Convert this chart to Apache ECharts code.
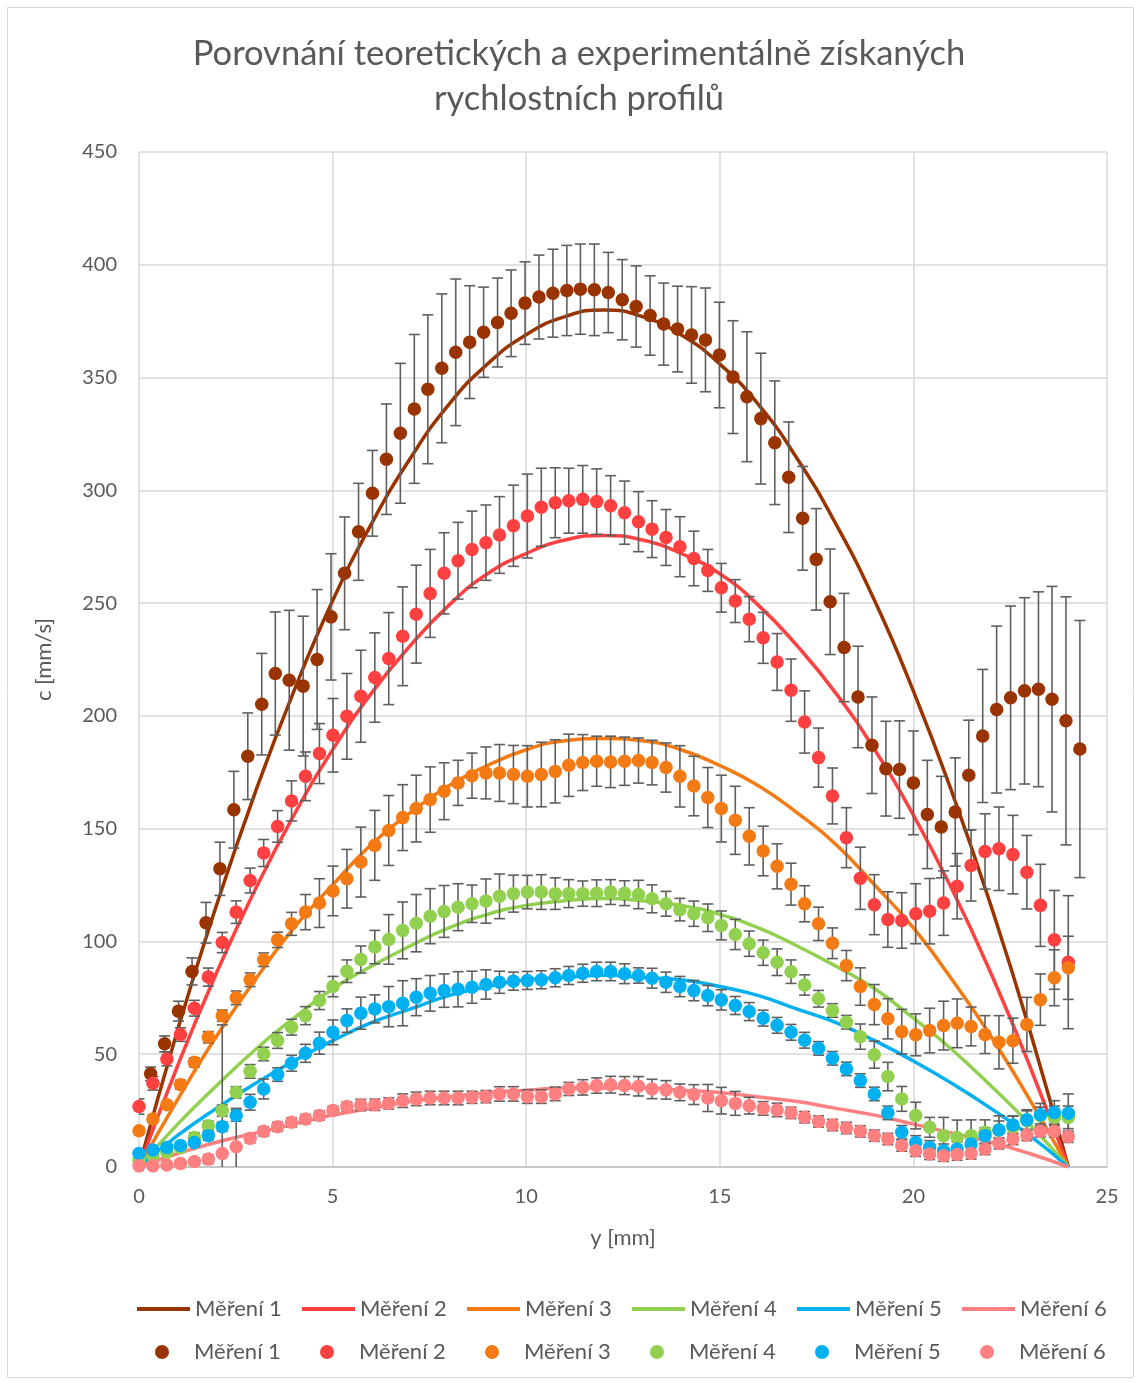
<!DOCTYPE html>
<html>
<head>
<meta charset="utf-8">
<script src="https://cdn.jsdelivr.net/npm/echarts@6/dist/echarts.min.js"></script>
<style>
  html, body { margin: 0; padding: 0; background: #fff; }
  #rychlosti { width: 1140px; height: 1383px; }
</style>
</head>
<body>
<div id="rychlosti"></div>
<script>
// poloha y [mm] pro teoreticke profily
const teorX = [0, 1, 2, 3, 4, 5, 6, 7, 8, 9, 10, 11, 12, 13, 14, 15, 16, 17, 18, 19, 20, 21, 22, 23, 24];
const teor1 = [0, 61, 116, 166, 211, 251, 285, 314, 338, 356, 369, 377, 380, 377, 369, 356, 338, 314, 285, 251, 211, 166, 116, 61, 0];
const teor2 = [0, 45, 86, 123, 156, 185, 210, 231, 249, 263, 272, 278, 280, 278, 272, 263, 249, 231, 210, 185, 156, 123, 86, 45, 0];
const teor3 = [0, 30, 58, 83, 106, 125, 143, 157, 169, 178, 185, 189, 190, 189, 185, 178, 169, 157, 143, 125, 106, 83, 58, 30, 0];
const teor4 = [0, 19, 36, 52, 66, 79, 89, 98, 106, 112, 116, 118, 119, 118, 116, 112, 106, 98, 89, 79, 66, 52, 36, 19, 0];
const teor5 = [0, 14, 26, 37, 47, 56, 64, 70, 76, 80, 83, 84, 85, 84, 83, 80, 76, 70, 64, 56, 47, 37, 26, 14, 0];
const teor6 = [0, 6, 11, 15, 19, 23, 26, 29, 31, 33, 34, 35, 35, 35, 34, 33, 31, 29, 26, 23, 19, 15, 11, 6, 0];

// poloha y [mm] mericich bodu
const yMer = [0, 0.36, 0.72, 1.07, 1.43, 1.79, 2.15, 2.51, 2.87, 3.22, 3.58, 3.94, 4.30, 4.66, 5.01, 5.37, 5.73,
  6.09, 6.45, 6.81, 7.16, 7.52, 7.88, 8.24, 8.60, 8.96, 9.31, 9.67, 10.03, 10.39, 10.75, 11.10, 11.46, 11.82,
  12.18, 12.54, 12.90, 13.25, 13.61, 13.97, 14.33, 14.69, 15.04, 15.40, 15.76, 16.12, 16.48, 16.84, 17.19,
  17.55, 17.91, 18.27, 18.63, 18.99, 19.34, 19.70, 20.06, 20.42, 20.78, 21.13, 21.49, 21.85, 22.21, 22.57,
  22.93, 23.28, 23.64, 24.00];
// mereni 1 ma posunutou polohu
const yMer1 = [0.30, 0.66, 1.02, 1.37, 1.73, 2.09, 2.45, 2.81, 3.17, 3.52, 3.88, 4.24, 4.60, 4.96, 5.31, 5.67,
  6.03, 6.39, 6.75, 7.11, 7.46, 7.82, 8.18, 8.54, 8.90, 9.26, 9.61, 9.97, 10.33, 10.69, 11.05, 11.40, 11.76,
  12.12, 12.48, 12.84, 13.20, 13.55, 13.91, 14.27, 14.63, 14.99, 15.34, 15.70, 16.06, 16.42, 16.78, 17.14,
  17.49, 17.85, 18.21, 18.57, 18.93, 19.29, 19.64, 20.00, 20.36, 20.72, 21.08, 21.43, 21.79, 22.15, 22.51,
  22.87, 23.23, 23.58, 23.94, 24.30];

const mer1 = [41.3, 54.6, 69.1, 86.7, 108.3, 132.2, 158.4, 182.1, 205.2, 218.8, 215.8, 213.2, 225.0, 243.9, 263.2,
  281.6, 298.7, 313.8, 325.3, 336.1, 344.8, 354.1, 361.2, 365.7, 370.1, 374.4, 378.5, 383.0, 385.7, 387.4, 388.6,
  389.2, 388.9, 387.7, 384.5, 381.5, 377.5, 373.7, 371.5, 368.9, 366.7, 360.0, 350.2, 341.5, 331.8, 321.1, 305.8,
  287.6, 269.4, 250.6, 230.3, 208.4, 187.0, 176.6, 176.2, 170.3, 156.3, 150.7, 157.4, 173.7, 191.1, 202.8, 208.0,
  211.1, 211.8, 207.4, 197.8, 185.3];
const chyba1 = [3, 3.5, 4.4, 6, 9, 11.8, 17, 19.2, 22.5, 27.3, 31, 31, 31, 28, 25, 21.5, 19, 24.5, 31, 33, 33, 33,
  32.5, 25, 20, 19.7, 19.2, 18.3, 18.6, 19.5, 20, 20, 20.3, 17.8, 17.8, 18, 17.6, 18.2, 19, 21.4, 23, 23.4, 25,
  28.8, 29, 27.4, 24.5, 23, 22.5, 23.4, 24, 22.5, 21.4, 21, 21.6, 23, 24, 22.5, 24, 24.4, 29.5, 37, 40.7, 41.3,
  43.2, 50, 55, 57];

const mer2 = [26.8, 37.1, 47.9, 58.7, 70.4, 84.2, 99.5, 113.0, 127.0, 139.2, 151.0, 162.3, 173.2, 183.3, 191.4,
  199.8, 208.7, 217.0, 225.4, 235.3, 245.1, 254.3, 263.2, 268.8, 273.8, 276.8, 280.2, 284.3, 288.6, 292.5, 294.5,
  295.4, 296.0, 295.0, 293.2, 290.1, 286.1, 282.8, 279.1, 275.0, 269.8, 264.5, 256.8, 250.9, 242.9, 234.6, 223.9,
  211.4, 197.3, 181.5, 164.5, 146.0, 128.0, 116.3, 109.7, 109.3, 112.3, 113.4, 117.0, 124.5, 133.7, 139.9, 141.1,
  138.5, 130.7, 116.0, 100.7, 90.8];
const chyba2 = [3.4, 3, 3, 3, 3.5, 4, 4.5, 5, 5.5, 6, 7, 8.9, 10.8, 13.3, 16.3, 19, 20.4, 19.8, 20.4, 21.9, 21.7,
  19.5, 18, 17, 17, 16.7, 17, 18, 18.6, 17.3, 15.5, 14.4, 15, 14.5, 13.3, 14, 13.3, 12.6, 12.4, 13.3, 12.1, 9.3,
  10.8, 9.5, 10, 11.3, 12.6, 13.8, 13.8, 13.1, 12.4, 13.3, 13.8, 13.3, 12.3, 12.3, 13.3, 14.5, 14.3, 14.5, 15.8,
  16.7, 18.5, 17.4, 16.3, 18.2, 21.9, 29.5];

const mer3 = [16.1, 21.3, 27.6, 36.5, 46.4, 57.5, 67.1, 75.0, 83.0, 91.9, 100.7, 107.8, 113.0, 117.0, 122.4, 127.8,
  135.2, 142.6, 149.2, 154.9, 158.9, 162.9, 166.6, 170.3, 173.5, 174.7, 174.7, 174.0, 173.2, 174.0, 175.4, 178.1,
  179.3, 179.9, 179.6, 179.9, 180.2, 179.3, 177.1, 173.2, 168.9, 163.8, 158.9, 153.7, 146.6, 140.1, 133.3, 125.4,
  116.7, 107.8, 99.2, 89.3, 80.0, 72.0, 65.7, 60.0, 58.6, 60.5, 62.7, 63.7, 62.3, 58.7, 55.3, 56.0, 63.2, 74.2,
  83.9, 88.3];
const chyba3 = [1.5, 1.5, 1.5, 2, 2, 2.5, 2.5, 3, 3, 3, 3.4, 5.1, 7.8, 10.8, 11, 13, 15.5, 15.5, 15.5, 14.6, 14.8,
  14.5, 12.6, 10, 10, 11.5, 12.6, 12.9, 13.6, 14.3, 14, 13.8, 12.4, 11.1, 11.4, 10.7, 10, 9.9, 10.9, 13.6, 13.2,
  13.3, 14.8, 15.1, 12.7, 11, 10, 9.3, 8, 7.4, 6.8, 6.7, 8.3, 8.9, 8.9, 9.9, 9.3, 9.9, 10.8, 10.8, 8.6, 8.4, 11.8,
  10, 12, 11.4, 12.4, 14];

const mer4 = [3.0, 5.0, 6.5, 8.7, 13.1, 18.3, 25.0, 33.1, 42.4, 50.1, 56.1, 62.0, 67.1, 73.8, 80.0, 86.8, 92.0,
  97.5, 100.9, 104.9, 108.1, 111.2, 113.3, 115.2, 116.7, 117.9, 120.0, 121.2, 121.9, 121.9, 121.2, 121.2, 121.2,
  121.4, 121.9, 121.4, 120.8, 118.9, 116.7, 114.1, 112.3, 110.5, 107.1, 103.1, 99.0, 95.0, 90.8, 86.6, 80.7, 74.6,
  69.4, 64.2, 57.8, 49.8, 40.1, 30.2, 22.8, 17.6, 13.9, 13.1, 13.9, 15.4, 16.4, 17.6, 20.5, 22.8, 22.0, 22.0];
const chyba4 = [1, 1, 1.5, 1.5, 2, 2, 2.5, 2.5, 3, 3, 3.5, 3.5, 4, 4, 4.5, 5, 6, 7.4, 11, 12.6, 12.7, 12.2, 11.5,
  10.4, 8.3, 9.8, 9.9, 8.2, 7.4, 7.7, 7, 6.2, 5.6, 5.9, 5.5, 5.5, 6.3, 6.2, 5.5, 5, 5.6, 6.1, 6.4, 6.7, 5.6, 5.6,
  5.9, 5.2, 4.5, 3.7, 3, 3, 5.6, 6, 6.3, 5.5, 5.9, 4.4, 8.1, 7.7, 7, 5.5, 6.3, 5, 4.4, 3.7, 5, 5];

const mer5 = [6.0, 7.5, 8.7, 9.5, 10.9, 13.9, 17.9, 22.8, 28.7, 34.6, 41.0, 46.0, 50.4, 54.9, 59.7, 64.9, 68.2,
  70.1, 71.1, 72.6, 75.3, 77.0, 78.2, 78.8, 79.7, 80.9, 81.9, 82.4, 82.7, 83.0, 83.9, 84.9, 85.9, 86.7, 86.7, 85.7,
  84.9, 83.7, 81.9, 80.0, 78.2, 76.0, 74.1, 71.6, 68.9, 66.0, 62.8, 59.7, 56.2, 52.6, 48.2, 43.5, 38.3, 32.4, 24.0,
  15.4, 10.9, 8.7, 7.2, 8.0, 10.2, 13.9, 16.4, 18.6, 20.9, 23.2, 24.2, 23.8];
const chyba5 = [1, 1, 1.5, 1.5, 1.5, 2, 2, 2.5, 3.5, 4.4, 3, 3.5, 4, 4.9, 5.5, 5.2, 7.1, 6.2, 8.9, 10, 8.2, 7.9,
  7.4, 7.8, 7.1, 6.5, 4.9, 4, 4, 4, 4, 4, 4, 4.1, 4.1, 4.4, 3.4, 4.4, 4.5, 4.5, 4.5, 4.5, 4.5, 4, 4, 3.5, 3.5, 3.5,
  3.5, 3, 3, 3, 3, 3, 3, 3, 3, 3, 3, 3, 3, 3.5, 4, 4, 4.5, 5, 5.2, 8.6];

const mer6 = [0.5, 0.5, 0.9, 1.6, 2.4, 3.5, 6.0, 9.0, 12.7, 15.8, 17.9, 19.8, 21.3, 22.8, 25.0, 26.8, 27.5, 27.6,
  28.2, 29.4, 30.2, 30.6, 30.6, 30.6, 30.9, 31.2, 32.4, 32.4, 31.2, 31.2, 32.4, 34.6, 35.3, 36.1, 36.5, 36.1, 35.8,
  34.6, 34.2, 33.1, 32.1, 30.6, 29.4, 28.2, 27.2, 26.0, 25.3, 24.0, 22.1, 20.2, 18.6, 17.3, 15.8, 13.9, 12.4, 9.5,
  7.2, 5.8, 5.0, 5.5, 6.0, 8.0, 10.5, 12.4, 14.2, 15.8, 15.8, 13.4];
const chyba6 = [0.5, 0.5, 1, 1, 1.5, 2, 57, 17, 2, 2, 2, 2, 2, 2, 2, 2, 2.5, 2.5, 2.5, 3, 3, 3, 3, 3, 2.7, 2.7,
  3.2, 3.2, 3, 3, 3, 2.9, 3.4, 3.4, 3.7, 4, 4.3, 4.3, 4.1, 3.7, 4.4, 6, 5.9, 5.3, 3.7, 3, 3, 2.5, 2.5, 2.5, 2.5,
  2.5, 2.5, 2.5, 2.5, 2.5, 2.5, 2.5, 2.5, 2.5, 2.5, 2.5, 2.5, 2.5, 2.5, 2.5, 2.5, 2.5];

const nazvy = ["Měření 1", "Měření 2", "Měření 3", "Měření 4", "Měření 5", "Měření 6"];
const barvy = ["#993300", "#ff4040", "#f47b14", "#92d050", "#00b0f0", "#ff8080"];

const teorie = [teor1, teor2, teor3, teor4, teor5, teor6];
const mereni = [mer1, mer2, mer3, mer4, mer5, mer6];
const chyby = [chyba1, chyba2, chyba3, chyba4, chyba5, chyba6];
const polohy = [yMer1, yMer, yMer, yMer, yMer, yMer];

const seda = "#595959";
const font = "Lato";

let chart = echarts.init(document.getElementById("rychlosti"));

// chybove useky (svisla cara + dve kratke vodorovne)
function kresliChybu(params, api) {
  let x = api.value(0);
  let dole = api.coord([x, api.value(1)]);
  let nahore = api.coord([x, api.value(2)]);
  let w = 5.5;
  let styl = { stroke: "#5f5f5f", lineWidth: 1.6 };
  return {
    type: "group",
    children: [
      { type: "line", shape: { x1: dole[0], y1: dole[1], x2: nahore[0], y2: nahore[1] }, style: styl },
      { type: "line", shape: { x1: nahore[0] - w, y1: nahore[1], x2: nahore[0] + w, y2: nahore[1] }, style: styl },
      { type: "line", shape: { x1: dole[0] - w, y1: dole[1], x2: dole[0] + w, y2: dole[1] }, style: styl },
    ],
  };
}

let series = [];
// teoreticke profily
nazvy.forEach((n, k) => {
  series.push({
    name: n,
    type: "line",
    smooth: true,
    symbol: "none",
    z: 2,
    lineStyle: { width: 3.5, color: barvy[k] },
    itemStyle: { color: barvy[k] },
    data: teorX.map((x, i) => [x, teorie[k][i]]),
  });
});
// namerene body s chybami
nazvy.forEach((n, k) => {
  series.push({
    name: n + " (chyba)",
    type: "custom",
    renderItem: kresliChybu,
    clip: true,
    z: 3,
    silent: true,
    itemStyle: { color: barvy[k] },
    data: polohy[k].map((x, i) => [x, mereni[k][i] - chyby[k][i], mereni[k][i] + chyby[k][i]]),
  });
  series.push({
    name: n + " (body)",
    type: "scatter",
    symbol: "circle",
    symbolSize: 13.5,
    z: 3,
    itemStyle: { color: barvy[k], opacity: 1 },
    data: polohy[k].map((x, i) => [x, mereni[k][i]]),
  });
});

// legenda: kazda polozka zvlast, aby sedely rozestupy (165 px)
let legendaText = { color: seda, fontSize: 22, fontFamily: font };
let legendy = [];
nazvy.forEach((n, k) => {
  legendy.push({
    data: [n],
    left: 132 + k * 165,
    top: 1293,
    itemWidth: 53,
    itemHeight: 4,
    itemGap: 0,
    icon: "rect",
    textStyle: legendaText,
  });
  legendy.push({
    data: [n + " (body)"],
    left: 150 + k * 165,
    top: 1336,
    itemWidth: 14,
    itemHeight: 14,
    itemGap: 0,
    icon: "circle",
    textStyle: Object.assign({ padding: [0, 0, 0, 20] }, legendaText),
    formatter: function (name) {
      return name.replace(" (body)", "");
    },
  });
});

let option = {
  backgroundColor: "#ffffff",
  animation: false,
  title: {
    text: "Porovnání teoretických a experimentálně získaných\nrychlostních profilů",
    left: 574,
    top: 26,
    textAlign: "center",
    textStyle: {
      color: seda,
      fontSize: 34.5,
      fontWeight: "normal",
      fontFamily: font,
      lineHeight: 45,
    },
  },
  graphic: [
    {
      type: "rect",
      shape: { x: 7.5, y: 7.5, width: 1126, height: 1370 },
      style: { fill: "none", stroke: "#d9d9d9", lineWidth: 1 },
      silent: true,
    },
  ],
  grid: { left: 139, right: 33, top: 152, bottom: 216 },
  xAxis: {
    type: "value",
    min: 0,
    max: 25,
    interval: 5,
    name: "y [mm]",
    nameLocation: "middle",
    nameGap: 60,
    nameTextStyle: { color: seda, fontSize: 22, fontFamily: font },
    axisLine: { show: true, lineStyle: { color: "#bfbfbf", width: 1.5 } },
    axisTick: { show: false },
    axisLabel: { color: seda, fontSize: 20, fontFamily: font, margin: 20 },
    splitLine: { show: true, lineStyle: { color: "#d9d9d9", width: 1.5 } },
  },
  yAxis: {
    type: "value",
    min: 0,
    max: 450,
    interval: 50,
    name: "c [mm/s]",
    nameLocation: "middle",
    nameGap: 84,
    nameTextStyle: { color: seda, fontSize: 22, fontFamily: font },
    axisLine: { show: false },
    axisTick: { show: false },
    axisLabel: { color: seda, fontSize: 20, fontFamily: font, margin: 22 },
    splitLine: { show: true, lineStyle: { color: "#d9d9d9", width: 1.5 } },
  },
  legend: legendy,
  series: series,
};

chart.setOption(option);
</script>
</body>
</html>
